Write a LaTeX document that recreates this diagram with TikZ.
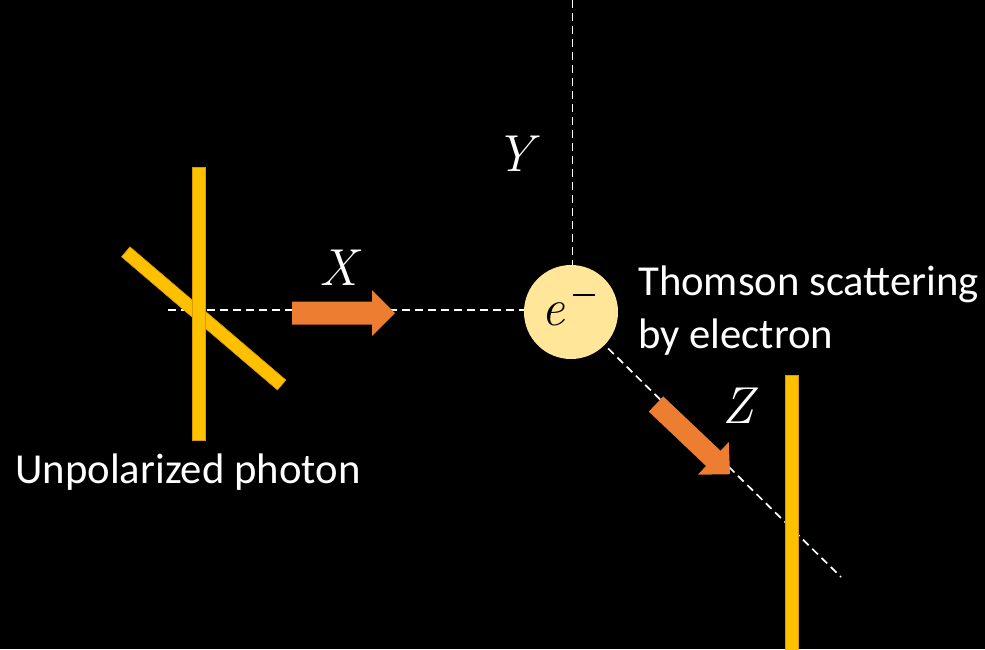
\documentclass[tikz,border=0pt]{standalone}
\usepackage{fontspec}
\setmainfont{Carlito}
\newfontfamily\lmfont{Latin Modern Roman}
\definecolor{barY}{HTML}{FFC000}
\definecolor{barEdge}{HTML}{D99A00}
\definecolor{arrO}{HTML}{ED7D31}
\definecolor{eFill}{HTML}{FFE699}
\tikzset{
  bar/.style={fill=barY, draw=barEdge, line width=0.6pt},
  axisline/.style={white, line width=1.7pt, dash pattern=on 8pt off 5pt},
  blockarrow/.style={fill=arrO},
  lbl/.style={text=white, inner sep=0pt, font=\fontsize{42.7}{50}\selectfont},
  mathlbl/.style={text=white, inner sep=0pt, font=\lmfont\itshape\fontsize{52}{60}\selectfont},
  electron/.style={circle, fill=eFill, minimum size=94pt, inner sep=0pt},
}
\begin{document}
\begin{tikzpicture}[x=1pt,y=-1pt]
\fill[black] (0,0) rectangle (985,649);
\useasboundingbox (0,0) rectangle (985,649);

\coordinate (ec) at (571,312);
\coordinate (xstart) at (168,310);
\coordinate (xend) at (571,310);
\coordinate (ytop) at (572.5,0);
\coordinate (ybot) at (572.5,312);
\coordinate (zend) at (841,577);

% dashed axes (under the electron)
\draw[axisline] (xstart) -- (xend);
\draw[axisline] (ytop) -- (ybot);
\draw[axisline] (ec) -- (zend);

% electron
\node[electron] (e) at (ec) {};
\node[mathlbl, text=black, anchor=base] (elab) at (553,325) {e};
\fill[black] (573,294) rectangle (595,296.4);

% left photon bars
\draw[bar, shift={(203.7,318.4)}, rotate=-40.5] (-102.5,-6.5) rectangle (102.5,6.5);
\draw[bar] (192,167) rectangle (205,440);

% X arrow
\fill[blockarrow, shift={(292,313)}] (0,-11.5) -- (80,-11.5) -- (80,-23) -- (103,0) -- (80,23) -- (80,11.5) -- (0,11.5) -- cycle;
% Z arrow
\fill[blockarrow, shift={(656,404)}, rotate=-43.5] (0,-10.5) -- (79,-10.5) -- (79,-22.5) -- (102,0) -- (79,22.5) -- (79,10.5) -- (0,10.5) -- cycle;

% right bar
\draw[bar] (785.7,375) rectangle (798.3,652);

% labels
\node[mathlbl, anchor=base] (xlab) at (338,285) {X};
\node[mathlbl, anchor=base] (ylab) at (514,171.5) {Y};
\node[mathlbl, anchor=base] (zlab) at (738,423) {Z};
\node[lbl, anchor=base west] (t1) at (638,295) {Thomson scattering};
\node[lbl, anchor=base west] (t2) at (638,348) {by electron};
\node[lbl, anchor=base] (up) at (188,483) {Unpolarized photon};
\end{tikzpicture}
\end{document}
